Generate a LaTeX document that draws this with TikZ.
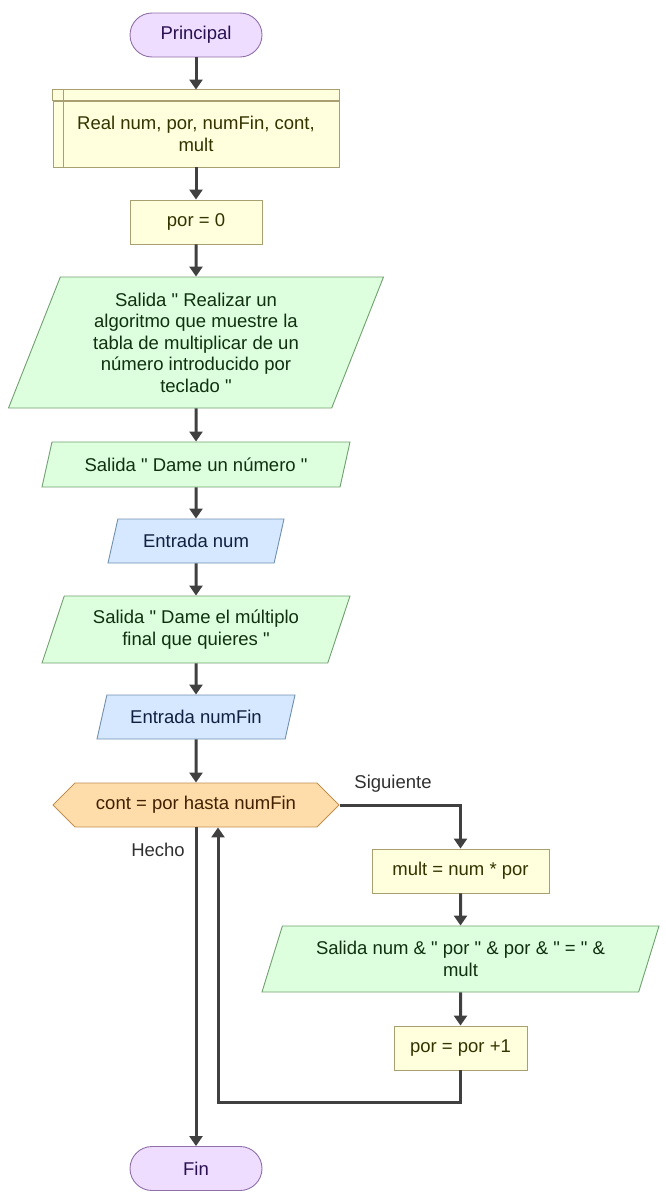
\documentclass[tikz,border=0pt]{standalone}
\usepackage{fontspec}
\setmainfont{Liberation Sans}[Ligatures=TeXOff]
\usetikzlibrary{shapes.geometric,shapes.symbols,arrows.meta}

\definecolor{termfill}{HTML}{EEDDFF}
\definecolor{termborder}{HTML}{9070A8}
\definecolor{termtext}{HTML}{2A1050}
\definecolor{procfill}{HTML}{FFFFDD}
\definecolor{procborder}{HTML}{A8A070}
\definecolor{proctext}{HTML}{333300}
\definecolor{outfill}{HTML}{DDFFDD}
\definecolor{outborder}{HTML}{70A070}
\definecolor{outtext}{HTML}{103010}
\definecolor{infill}{HTML}{D5E8FF}
\definecolor{inborder}{HTML}{7090B0}
\definecolor{intext}{HTML}{102040}
\definecolor{forfill}{HTML}{FFDDAA}
\definecolor{forborder}{HTML}{C09050}
\definecolor{fortext}{HTML}{402000}
\definecolor{flowgray}{HTML}{404040}
\definecolor{labeltext}{HTML}{303030}

\begin{document}
\begin{tikzpicture}[x=1pt,y=-1pt]
    \tikzstyle{every node} = [font=\fontsize{18.5}{21.5}\selectfont, align=center]
    \tikzstyle{startstop} = [draw=termborder, fill=termfill, text=termtext, line width=0.9pt, rectangle, rounded corners=22pt, minimum width=132pt, minimum height=44pt]
    \tikzstyle{assign} = [draw=procborder, fill=procfill, text=proctext, line width=0.9pt, rectangle, minimum height=44pt]
    \tikzstyle{io} = [trapezium, trapezium left angle=64, trapezium right angle=116, trapezium stretches body, inner xsep=2pt, line width=0.9pt, minimum height=44pt]
    \tikzstyle{outbox} = [io, draw=outborder, fill=outfill, text=outtext]
    \tikzstyle{inbox} = [io, draw=inborder, fill=infill, text=intext]
    \tikzstyle{forbox} = [signal, signal to=west and east, signal pointer angle=90, draw=forborder, fill=forfill, text=fortext, line width=0.9pt, minimum height=44pt]
    \tikzstyle{flow} = [-{Stealth[inset=0pt,length=10pt,width=13pt]}, line width=3pt, draw=flowgray]
    \tikzstyle{branch} = [text=labeltext]
    \useasboundingbox (0,0) rectangle (666,1197);

    % place nodes
    \node[startstop](principal) at (196,35){Principal};
    \node[assign,minimum width=286pt,minimum height=66pt](decl) at (196,134){Real num, por, numFin, cont,\\ mult};
    \node[assign,minimum width=132pt](porZero) at (196,222){por = 0};
    \node[outbox,minimum width=375pt,minimum height=131pt](intro) at (196,342.5){Salida " Realizar un\\ algoritmo que muestre la\\ tabla de multiplicar de un\\ número introducido por\\ teclado "};
    \node[outbox,minimum width=308pt,minimum height=45pt](askNum) at (196,464.5){Salida " Dame un número "};
    \node[inbox,minimum width=176pt](readNum) at (196,541){Entrada num};
    \node[outbox,minimum width=308pt,minimum height=67pt](askFin) at (196,629.5){Salida " Dame el múltiplo\\ final que quieres "};
    \node[inbox,minimum width=198pt](readFin) at (196,717){Entrada numFin};
    \node[forbox,minimum width=286pt](forCont) at (196,805){cont = por hasta numFin};
    \node[assign,minimum width=177pt](multCalc) at (460.5,871){mult = num * por};
    \node[outbox,minimum width=397pt,minimum height=66pt](showRow) at (460.5,959){Salida num \& " por " \& por \& " = " \&\\ mult};
    \node[assign,minimum width=133pt](porInc) at (460.5,1048){por = por +1};
    \node[startstop](fin) at (196,1168.5){Fin};
    \node[branch](siguiente) at (393,784){Siguiente};
    \node[branch](hecho) at (158,850){Hecho};

    % declaration header lines
    \draw[draw=procborder,fill=procfill,line width=0.9pt] ([yshift=11pt]decl.north west) rectangle (decl.north east);
    \draw[draw=procborder,line width=0.9pt] ([xshift=11pt,yshift=11pt]decl.north west) -- ([xshift=11pt]decl.south west);
    \coordinate (declTop) at ([yshift=11pt]decl.north);
    \coordinate (loopBack) at (218,1102);

    % Connections
    \draw[flow] (principal.south) -- (declTop);
    \draw[flow] (decl.south) -- (porZero.north);
    \draw[flow] (porZero.south) -- (intro.north);
    \draw[flow] (intro.south) -- (askNum.north);
    \draw[flow] (askNum.south) -- (readNum.north);
    \draw[flow] (readNum.south) -- (askFin.north);
    \draw[flow] (askFin.south) -- (readFin.north);
    \draw[flow] (readFin.south) -- (forCont.north);
    \draw[flow] (forCont.east) -| (multCalc.north);
    \draw[flow] (multCalc.south) -- (showRow.north);
    \draw[flow] (showRow.south) -- (porInc.north);
    \draw[flow] (porInc.south) |- (loopBack) -- (loopBack |- forCont.south);
    \draw[flow] (forCont.south) -- (fin.north);

  \end{tikzpicture}
\end{document}
